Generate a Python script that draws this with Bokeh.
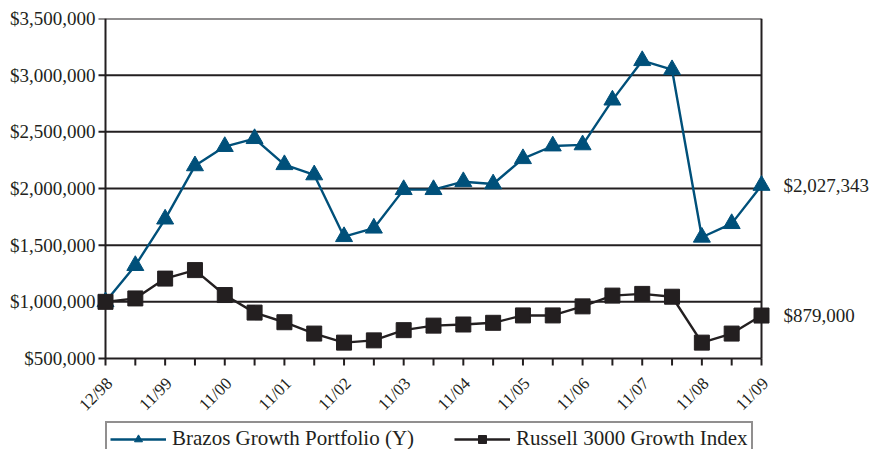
import math
from bokeh.plotting import figure
from bokeh.models import (Range1d, FixedTicker, LinearAxis, Legend, LegendItem)
from bokeh.core.properties import value
from bokeh.embed import file_html
from bokeh.resources import INLINE

dates = ["12/98", "5/99", "11/99", "5/00", "11/00", "5/01", "11/01", "5/02",
         "11/02", "5/03", "11/03", "5/04", "11/04", "5/05", "11/05", "5/06",
         "11/06", "5/07", "11/07", "5/08", "11/08", "5/09", "11/09"]
brazos = [1000000, 1320000, 1730000, 2200000, 2370000, 2440000, 2210000, 2120000,
          1575000, 1650000, 1990000, 1990000, 2060000, 2040000, 2263000, 2375000,
          2385000, 2780000, 3128000, 3048000, 1570000, 1690000, 2027343]
russell = [1000000, 1030000, 1205000, 1280000, 1060000, 905000, 820000, 720000,
           640000, 660000, 750000, 790000, 800000, 815000, 880000, 880000,
           960000, 1055000, 1070000, 1045000, 640000, 720000, 879000]
end_labels = ["$2,027,343", "$879,000"]
y_ticks = [500000, 1000000, 1500000, 2000000, 2500000, 3000000, 3500000]
y_tick_labels = ["$500,000", "$1,000,000", "$1,500,000", "$2,000,000",
                 "$2,500,000", "$3,000,000", "$3,500,000"]

x = list(range(len(dates)))
n_last = len(dates) - 1
FONT = "Liberation Serif"
BLUE = "#00507a"
BLACK = "#231f20"

# layout constants (pixels)
WIDTH = 869
LEFT_BORDER = 75
RIGHT_BORDER = 87
AXIS_X = 105               # screen x of the value axis
PLOT_W = 656               # width of the value area
PLOT_H = 340               # height of the value area ($500,000 .. $3,500,000)
BELOW_H = 91               # space below the value area kept inside the frame
FRAME_W = WIDTH - LEFT_BORDER - RIGHT_BORDER
px_per_step = PLOT_W / n_last
PAD_L = (AXIS_X - LEFT_BORDER) / px_per_step
PAD_R = (FRAME_W - PLOT_W) / px_per_step - PAD_L
units_per_px = (y_ticks[-1] - y_ticks[0]) / PLOT_H
y_base = y_ticks[0]
y_lo = y_base - BELOW_H * units_per_px

p = figure(frame_width=FRAME_W, frame_height=PLOT_H + BELOW_H, output_backend="svg",
           toolbar_location=None,
           x_range=Range1d(-PAD_L, n_last + PAD_R), y_range=Range1d(y_lo, y_ticks[-1]),
           min_border_left=LEFT_BORDER, min_border_right=RIGHT_BORDER, min_border_top=18,
           min_border_bottom=0)
p.background_fill_color = "white"
p.border_fill_color = "white"
p.outline_line_color = None
p.xgrid.visible = False
p.ygrid.visible = False
p.xaxis.visible = False

# horizontal grid lines (with left tick stubs)
tick_dx = 7 / px_per_step
p.segment(x0=[-tick_dx] * len(y_ticks), x1=[n_last] * len(y_ticks), y0=y_ticks, y1=y_ticks,
          line_color=BLACK, line_width=2)
# left axis line and right border
p.segment(x0=[0, n_last], x1=[0, n_last], y0=[y_base, y_base], y1=[y_ticks[-1], y_ticks[-1]],
          line_color=BLACK, line_width=2)
# x tick marks
tick_dy = 7 * units_per_px
p.segment(x0=x, x1=x, y0=[y_base] * len(x), y1=[y_base - tick_dy] * len(x),
          line_color=BLACK, line_width=2)
# x tick labels (every other tick), rotated 45 degrees
lab_idx = [i for i in x if i % 2 == 0]
p.text(x=[i + 4 / px_per_step for i in lab_idx],
       y=[y_base - 22 * units_per_px] * len(lab_idx),
       text=[dates[i] for i in lab_idx], angle=math.pi / 4,
       text_align="right", text_baseline="middle",
       text_font=value(FONT), text_font_size="17px", text_color=BLACK)

yax = p.yaxis[0]
yax.ticker = FixedTicker(ticks=y_ticks)
yax.major_label_overrides = dict(zip(y_ticks, y_tick_labels))
yax.major_label_text_font = FONT
yax.major_label_text_font_size = "19px"
yax.major_label_text_color = BLACK
yax.axis_line_color = None
yax.major_tick_line_color = None
yax.minor_tick_line_color = None
yax.major_tick_in = 0
yax.major_tick_out = 0
yax.major_label_standoff = -(AXIS_X - 10 - LEFT_BORDER)

rax = LinearAxis(ticker=FixedTicker(ticks=[brazos[-1], russell[-1]]),
                 major_label_overrides={brazos[-1]: end_labels[0], russell[-1]: end_labels[1]})
rax.axis_line_color = None
rax.major_tick_line_color = None
rax.minor_tick_line_color = None
rax.major_tick_in = 0
rax.major_tick_out = 0
rax.major_label_standoff = 1
rax.major_label_text_font = FONT
rax.major_label_text_font_size = "19px"
rax.major_label_text_color = BLACK
p.add_layout(rax, "right")

bl = p.line(x, brazos, line_color=BLUE, line_width=2.4)
bm = p.scatter(x, brazos, marker="triangle", size=17, fill_color=BLUE, line_color=BLUE)
rl = p.line(x, russell, line_color=BLACK, line_width=2.4)
rm = p.scatter(x, russell, marker="square", size=15, fill_color=BLACK, line_color=BLACK)

legend = Legend(items=[LegendItem(label="Brazos Growth Portfolio (Y)", renderers=[bl, bm]),
                       LegendItem(label="Russell 3000 Growth Index", renderers=[rl, rm])],
                orientation="horizontal", location=(AXIS_X - LEFT_BORDER, -7))
legend.label_text_font = FONT
legend.label_text_font_size = "21px"
legend.label_text_color = BLACK
legend.border_line_color = BLACK
legend.border_line_width = 2
legend.background_fill_alpha = 1
legend.glyph_width = 56
legend.label_standoff = 6
legend.spacing = 40
legend.padding = 3
legend.margin = 0
p.add_layout(legend, "center")

open("out.html", "w").write(file_html(p, INLINE))
